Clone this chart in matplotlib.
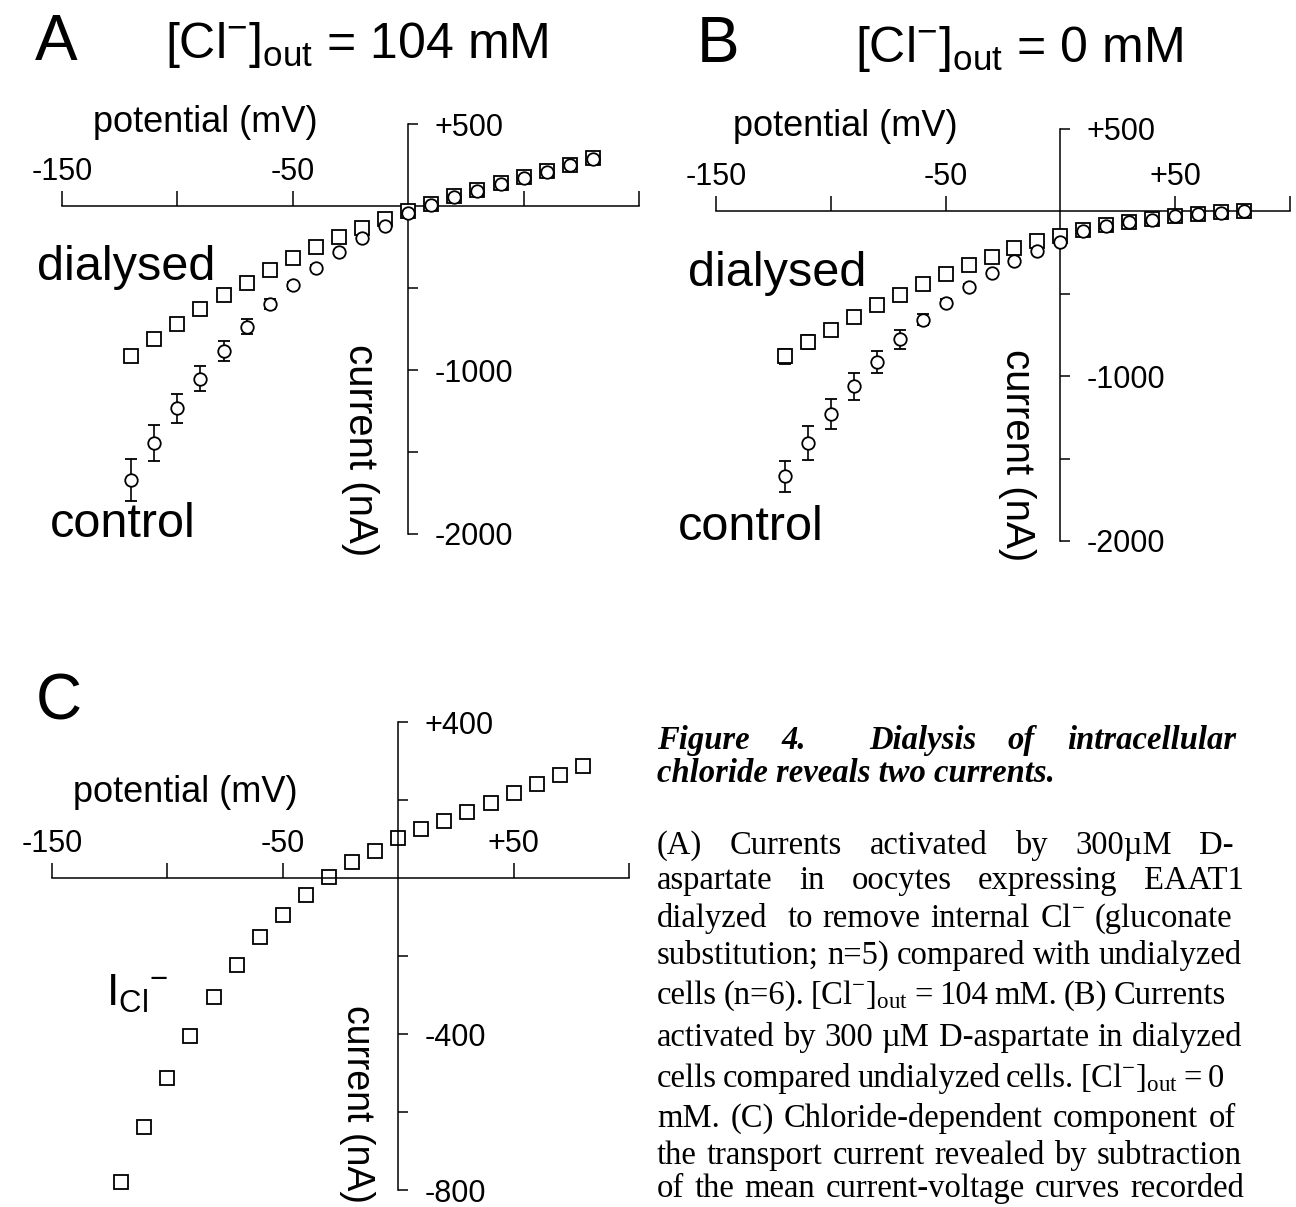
import numpy as np
import matplotlib
matplotlib.use("Agg")
from matplotlib import pyplot as plt

W, H = 1296, 1207

plt.rcParams['font.family'] = 'Liberation Sans'
plt.rcParams['mathtext.default'] = 'regular'

# holding potentials (mV)
volts = [-120, -110, -100, -90, -80, -70, -60, -50, -40, -30, -20,
         -10, 0, 10, 20, 30, 40, 50, 60, 70, 80]

# A: [Cl-]out = 104 mM, currents in nA
a_control = [-1670, -1445, -1234, -1054, -885, -735, -600, -484, -375, -279, -195,
             -121, -45, 5, 55, 92, 135, 173, 210, 247, 284]
a_control_err = [128, 110, 90, 77, 63, 46, 30, 20, 15, 12, 10,
                 8, 8, 6, 6, 6, 6, 6, 6, 6, 6]
a_dialysed = [-913, -811, -717, -627, -543, -469, -392, -318, -253, -191, -134,
              -77, -28, 12, 60, 97, 140, 178, 215, 252, 290]

# B: [Cl-]out = 0 mM
b_control = [-1608, -1405, -1228, -1062, -915, -777, -656, -553, -456, -373, -299,
             -239, -188, -118, -88, -66, -50, -30, -18, -10, 0]
b_control_err = [96, 105, 90, 80, 67, 58, 36, 20, 15, 10, 8,
                 6, 5, 5, 5, 5, 5, 5, 5, 5, 5]
b_dialysed = [-880, -791, -717, -642, -567, -505, -442, -379, -326, -279, -224,
              -179, -148, -112, -82, -62, -45, -26, -14, -6, 5]
b_dialysed_err = [48, 44, 36, 30, 25, 20, 15, 12, 10, 8, 6,
                  5, 5, 5, 5, 5, 5, 5, 5, 5, 5]

# C: chloride-dependent current
c_icl = [-780, -639, -513, -406, -306, -223, -152, -95, -44, 2, 40,
         70, 103, 125, 146, 170, 193, 217, 240, 264, 288]

x_ticks = [-150, -100, -50, 50, 100]
a_xlabels = ['-150', '', '-50', '', '']
bc_xlabels = ['-150', '', '-50', '+50', '']
ab_yticks = [500, -500, -1000, -1500, -2000]
ab_ylabels = ['+500', '', '-1000', '', '-2000']
c_yticks = [400, 200, -200, -400, -600, -800]
c_ylabels = ['+400', '', '', '-400', '', '-800']

fig = plt.figure(figsize=(W / 100, H / 100), dpi=100)


def put(x, y, s, **kw):
    # place text by pixel position, y counted from the top
    return fig.text(x / W, 1 - y / H, s, **kw)


def iv_axes(left, right, top, bottom, ylim, xlabels, yticks, ylabels):
    ax = fig.add_axes([left / W, 1 - bottom / H, (right - left) / W, (bottom - top) / H])
    ax.set_xlim(-150, 100)
    ax.set_ylim(*ylim)
    ax.patch.set_visible(False)
    for side in ['left', 'bottom']:
        ax.spines[side].set_visible(False)
    for side in ['top', 'right']:
        ax.spines[side].set_position(('data', 0))
        ax.spines[side].set_linewidth(1.1)
    ax.xaxis.set_ticks_position('top')
    ax.yaxis.set_ticks_position('right')
    ax.set_xticks(x_ticks, xlabels)
    ax.set_yticks(yticks, ylabels)
    ax.tick_params(axis='x', direction='out', length=11, width=1.1, pad=3, labelsize=22)
    ax.tick_params(axis='y', direction='out', length=7, width=1.1, pad=12, labelsize=22)
    return ax


sq = dict(fmt='s', ms=9.5, mfc='white', mec='black', mew=1.3, ecolor='black',
          elinewidth=1.2, capsize=4, capthick=1.2, clip_on=False)
ci = dict(fmt='o', ms=9, mfc='white', mec='black', mew=1.3, ecolor='black',
          elinewidth=1.2, capsize=4, capthick=1.2, clip_on=False)

# ---- A ----
axA = iv_axes(62, 639, 124, 534, (-2000, 500), a_xlabels, ab_yticks, ab_ylabels)
axA.errorbar(volts, a_dialysed, **sq, zorder=3)
axA.errorbar(volts, a_control, yerr=a_control_err, **ci, zorder=4)

# ---- B ----
axB = iv_axes(716, 1290, 129, 541, (-2000, 500), bc_xlabels, ab_yticks, ab_ylabels)
axB.errorbar(volts, b_dialysed, yerr=b_dialysed_err, **sq, zorder=3)
axB.errorbar(volts, b_control, yerr=b_control_err, **ci, zorder=4)

# ---- C ----
axC = iv_axes(52, 629, 722, 1190, (-800, 400), bc_xlabels, c_yticks, c_ylabels)
axC.plot(volts, c_icl, 's', ms=9.5, mfc='white', mec='black', mew=1.3, clip_on=False)

# panel letters and titles
put(35, 60, 'A', fontsize=46)
put(165, 58, r'[Cl$^{-}$]$_{out}$ = 104 mM', fontsize=36)
put(697, 62, 'B', fontsize=46)
put(855, 62, r'[Cl$^{-}$]$_{out}$ = 0 mM', fontsize=36)
put(36, 720, 'C', fontsize=46)

# axis titles
for x, y in [(205, 122), (845, 127), (185, 793)]:
    put(x, y, 'potential (mV)', fontsize=26, ha='center', va='center')
for x, y, fs in [(360, 450, 29), (1017, 455, 29), (357, 1104, 27)]:
    put(x, y, 'current (nA)', fontsize=fs, ha='center', va='center', rotation=270)

# curve names
put(37, 280, 'dialysed', fontsize=35)
put(50, 537, 'control', fontsize=35)
put(688, 286, 'dialysed', fontsize=35)
put(678, 540, 'control', fontsize=35)
put(106, 1006, r'$I_{Cl}{}^{-}$', fontsize=32)

# legend text, justified line by line
renderer = fig.canvas.get_renderer()
X0 = 657


def caption_line(y, line, right=None, **kw):
    if right is None:
        put(X0, y, line, **kw)
        return
    words = line.split(' ')
    texts = [put(X0, y, w, **kw) if w else None for w in words]
    widths = [t.get_window_extent(renderer).width if t else 0 for t in texts]
    gap = (right - X0 - sum(widths)) / (len(words) - 1)
    x = X0
    for t, w in zip(texts, widths):
        if t is not None:
            t.set_x(x / W)
        x += w + gap


head = dict(family='Liberation Serif', fontsize=23.5, weight='bold', style='italic')
body = dict(family='Liberation Serif', fontsize=23.5)
caption_line(749, 'Figure 4.  Dialysis of intracellular', 1236, **head)
caption_line(782, 'chloride reveals two currents.', **head)

body_lines = [
    (854, '(A) Currents activated by 300\u00b5M D-', 1234),
    (889, 'aspartate in oocytes expressing EAAT1', 1244),
    (927, r'dialyzed  to remove internal Cl$^{-}$ (gluconate', 1232),
    (964, 'substitution; n=5) compared with undialyzed', 1242),
    (1004, r'cells (n=6). [Cl$^{-}$]$_{out}$ = 104 mM. (B) Currents', 1226),
    (1046, 'activated by 300 \u00b5M D-aspartate in dialyzed', 1242),
    (1087, r'cells compared undialyzed cells. [Cl$^{-}$]$_{out}$ = 0', 1224),
    (1127, 'mM. (C) Chloride-dependent component of', 1236),
    (1164, 'the transport current revealed by subtraction', 1242),
    (1197, 'of the mean current-voltage curves recorded', 1244),
]
for y, line, right in body_lines:
    caption_line(y, line, right, **body)

fig.savefig('out.png', dpi=100)
